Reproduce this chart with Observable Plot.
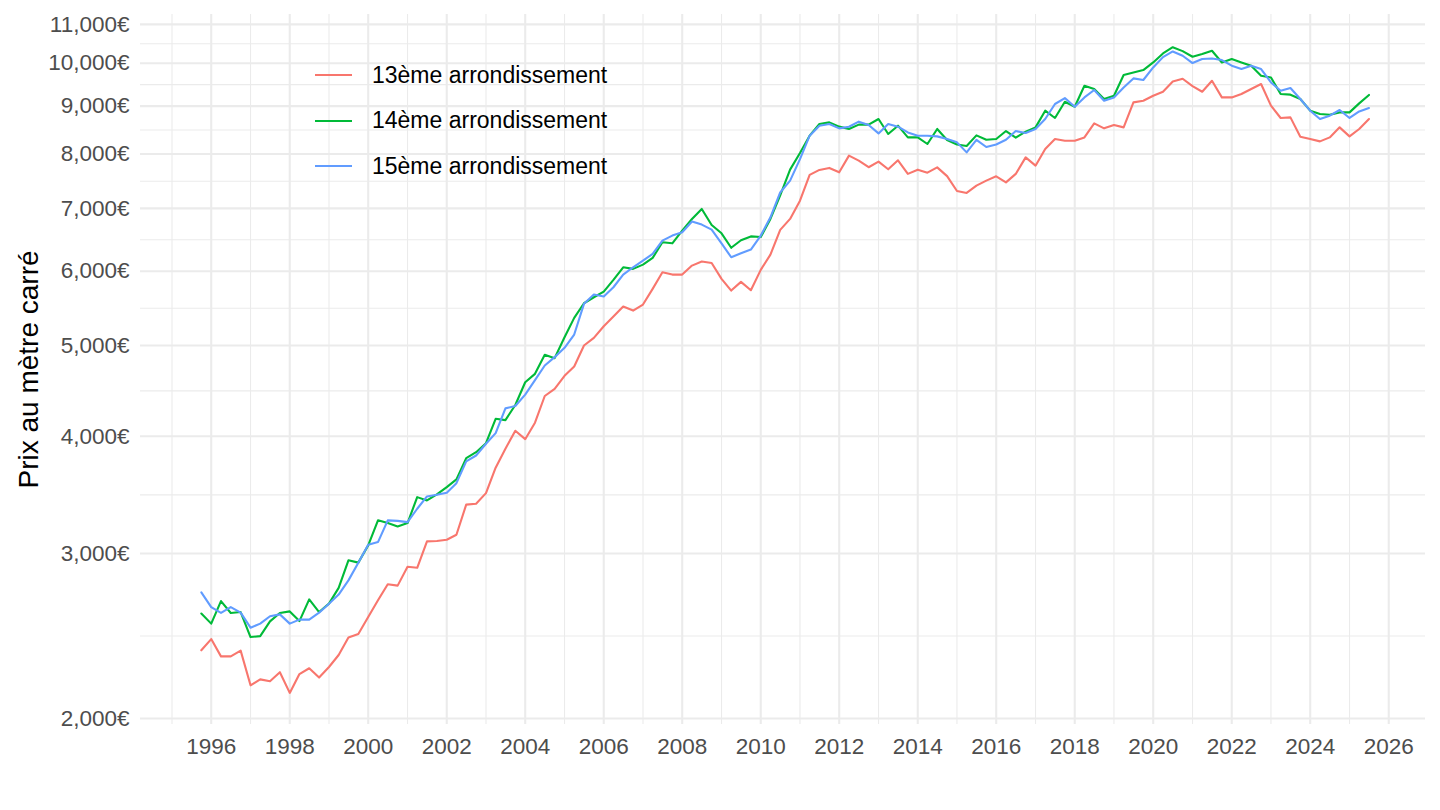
<!DOCTYPE html>
<html><head><meta charset="utf-8">
<script src="https://cdn.jsdelivr.net/npm/d3@7"></script>
<script src="https://cdn.jsdelivr.net/npm/@observablehq/plot@0.6"></script>
<style>
html,body{margin:0;padding:0;background:#fff;}
#wrap{position:relative;width:1440px;height:810px;font-family:"Liberation Sans",Arial,Helvetica,sans-serif;}
.row{position:absolute;left:315px;height:23px;line-height:23px;font-size:23px;color:#000;white-space:nowrap;}
.key{position:absolute;left:0;top:10.5px;width:37px;height:2px;}
.lab{position:absolute;left:57px;top:0;}
svg g[aria-label="y-axis label"] text{font-size:28px;fill:#000;}
</style></head>
<body><div id="wrap"></div>
<script>
const seriesNames = ["13ème arrondissement", "14ème arrondissement", "15ème arrondissement"];
const seriesColors = ["#F8766D", "#00BA38", "#619CFF"];
const firstQuarter = "1995-10-01";
const prices13 = [2365,2431,2330,2330,2363,2170,2202,2192,2241,2130,2231,2263,2212,2270,2338,2440,2461,2566,2674,2781,
2772,2903,2896,3090,3093,3103,3141,3382,3390,3479,3703,3880,4055,3972,4136,4416,4495,4640,4748,4999,
5094,5241,5367,5501,5447,5528,5745,5984,5950,5950,6083,6145,6123,5888,5721,5845,5726,6020,6250,6640,
6822,7135,7600,7694,7732,7649,7969,7871,7745,7852,7706,7878,7620,7699,7642,7743,7578,7306,7271,7403,
7494,7574,7463,7619,7935,7775,8100,8302,8267,8267,8334,8626,8521,8592,8542,9082,9120,9232,9323,9562,
9625,9452,9323,9578,9194,9194,9271,9385,9502,9009,8741,8754,8349,8302,8253,8334,8542,8355,8508,8719];
const prices14 = [2588,2525,2669,2592,2598,2443,2449,2539,2592,2602,2541,2680,2598,2652,2757,2950,2933,3060,3254,3232,
3206,3232,3445,3417,3468,3531,3598,3791,3847,3933,4176,4162,4320,4568,4663,4886,4846,5102,5350,5546,
5628,5707,5873,6058,6034,6098,6199,6441,6425,6629,6820,6991,6720,6585,6355,6474,6535,6526,6822,7230,
7700,8020,8369,8613,8647,8557,8508,8599,8599,8719,8404,8577,8334,8334,8200,8508,8282,8190,8160,8376,
8285,8302,8465,8330,8451,8542,8899,8741,9097,8986,9461,9385,9158,9232,9713,9775,9833,10018,10242,10400,
10300,10159,10227,10310,10018,10102,10018,9939,9696,9656,9271,9256,9158,8899,8827,8811,8862,8862,9060,9249];
const prices15 = [2727,2630,2592,2630,2594,2500,2525,2571,2583,2525,2550,2550,2594,2652,2712,2808,2933,3064,3085,3254,
3250,3240,3348,3451,3465,3482,3565,3761,3816,3927,4031,4284,4309,4431,4591,4760,4858,4971,5136,5538,
5665,5638,5768,5950,6058,6158,6260,6468,6548,6601,6780,6727,6645,6425,6209,6270,6327,6548,6849,7280,
7494,7900,8369,8577,8613,8521,8555,8662,8592,8416,8613,8557,8437,8369,8369,8355,8302,8233,8033,8285,
8140,8190,8285,8465,8425,8508,8719,9046,9180,8986,9194,9362,9120,9194,9422,9633,9596,9896,10150,10292,
10184,10003,10102,10117,10077,9939,9857,9939,9857,9538,9345,9408,9158,8899,8719,8790,8914,8741,8883,8958];
const yTickValues = [2000,3000,4000,5000,6000,7000,8000,9000,10000,11000];
const xTickYears = [1996,1998,2000,2002,2004,2006,2008,2010,2012,2014,2016,2018,2020,2022,2024,2026];
const gridYears = d3.range(1995, 2027);

const start = new Date(firstQuarter);
const dates = prices13.map((_, i) => d3.utcMonth.offset(start, 3 * i));
const allSeries = [prices13, prices14, prices15];
const rows = [];
allSeries.forEach((vals, s) => vals.forEach((v, i) => rows.push({series: seriesNames[s], date: dates[i], price: v})));

const yr = y => new Date(Date.UTC(y, 0, 1));
const majorX = gridYears.filter(y => y % 2 === 0).map(yr);
const minorX = gridYears.filter(y => y % 2 !== 0).map(yr);
const majorY = yTickValues;
const minorY = d3.pairs(yTickValues).map(([a, b]) => Math.sqrt(a * b));
const grid = "#EBEBEB";

const chart = Plot.plot({
  width: 1440, height: 810,
  marginLeft: 140, marginRight: 15, marginTop: 14, marginBottom: 86,
  style: {fontFamily: '"Liberation Sans", Arial, Helvetica, sans-serif', background: "white", overflow: "visible"},
  x: {type: "utc", domain: [new Date("1994-03-14"), new Date("2026-12-09")]},
  y: {type: "log", domain: [1971, 11270]},
  color: {domain: seriesNames, range: seriesColors},
  marks: [
    Plot.ruleX(minorX, {stroke: grid, strokeWidth: 1.1}),
    Plot.ruleY(minorY, {stroke: grid, strokeWidth: 1.1}),
    Plot.ruleX(majorX, {stroke: grid, strokeWidth: 2.1}),
    Plot.ruleY(majorY, {stroke: grid, strokeWidth: 2.1}),
    Plot.line(rows, {x: "date", y: "price", z: "series", stroke: "series", strokeWidth: 2.1}),
    Plot.axisX({ticks: xTickYears.map(yr), tickFormat: d3.utcFormat("%Y"), tickSize: 0, tickPadding: 14,
      fontSize: 22.5, fill: "#4D4D4D", label: null}),
    Plot.axisY({ticks: yTickValues, tickFormat: d => d3.format(",")(d) + "€", tickSize: 0, tickPadding: 11,
      fontSize: 22.5, fill: "#4D4D4D", label: "Prix au mètre carré", labelAnchor: "center",
      labelOffset: 122, labelArrow: "none"})
  ]
});
const wrap = document.getElementById("wrap");
wrap.appendChild(chart);

// legend inside the panel (as in the reference)
const legendTops = [75, 120.7, 166];
seriesNames.forEach((name, i) => {
  const row = document.createElement("div");
  row.className = "row";
  row.style.top = (legendTops[i] - 11.5) + "px";
  const key = document.createElement("div");
  key.className = "key";
  key.style.background = seriesColors[i];
  const lab = document.createElement("div");
  lab.className = "lab";
  lab.textContent = name;
  row.appendChild(key); row.appendChild(lab);
  wrap.appendChild(row);
});
</script>
</body></html>
